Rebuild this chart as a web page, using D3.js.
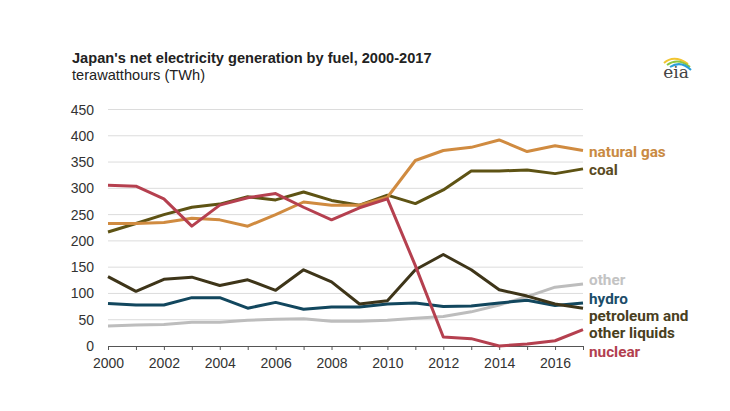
<!DOCTYPE html>
<html><head><meta charset="utf-8">
<script src="https://cdn.jsdelivr.net/npm/d3@7"></script>
<style>body{margin:0;background:#fff;font-family:Arial,"Liberation Sans",sans-serif}</style>
</head><body><svg id="c" width="730" height="411"></svg>
<script>
const years = d3.range(2000, 2018);
const naturalGas = [233,233,235,243,240,228,250,274,268,268,283,353,372,378,392,370,381,372];
const coal = [217,233,250,264,270,284,278,293,277,268,287,271,297,333,333,335,328,337];
const nuclear = [306,304,280,228,268,282,290,264,240,263,280,153,17,14,0,4,10,31];
const petroleum = [132,104,127,131,115,126,106,145,122,80,86,145,174,145,107,95,80,72];
const hydro = [81,78,78,92,92,72,83,70,74,74,80,82,75,76,82,87,77,82];
const other = [38,40,41,45,45,49,51,52,47,47,49,53,56,65,78,94,112,118];
const yTicks = [0,50,100,150,200,250,300,350,400,450];
const xTickLabels = [2000,2002,2004,2006,2008,2010,2012,2014,2016];

const series = [
  {name:"other", values:other, color:"#bdbdbd", label:["other"], ly:[279], lc:"#c3c3c3"},
  {name:"hydro", values:hydro, color:"#12475e", label:["hydro"], ly:[298], lc:"#1b4d69"},
  {name:"petroleum", values:petroleum, color:"#3e3519", label:["petroleum and","other liquids"], ly:[315,332], lc:"#4a3f1e"},
  {name:"coal", values:coal, color:"#5e5314", label:["coal"], ly:[169], lc:"#5a4b1f"},
  {name:"natural gas", values:naturalGas, color:"#d08b40", label:["natural gas"], ly:[151], lc:"#c98a42"},
  {name:"nuclear", values:nuclear, color:"#b5404f", label:["nuclear"], ly:[351], lc:"#b23f50"}
];

const svg = d3.select("#c");
const x = d3.scaleLinear().domain([2000,2017]).range([108,583]);
const y = d3.scaleLinear().domain([0,450]).range([346,109.5]);

svg.append("text").attr("x",72).attr("y",63).attr("font-size",14.6).attr("font-weight","bold").attr("fill","#222")
  .text("Japan's net electricity generation by fuel, 2000-2017");
svg.append("text").attr("x",72).attr("y",80).attr("font-size",14.6).attr("fill","#222").text("terawatthours (TWh)");

// grid
svg.append("g").selectAll("line").data(yTicks.filter(d=>d>0)).join("line")
  .attr("x1",108).attr("x2",583).attr("y1",d=>y(d)).attr("y2",d=>y(d))
  .attr("stroke","#dcdcdc").attr("stroke-width",1);

// y labels
svg.append("g").selectAll("text").data(yTicks).join("text")
  .attr("x",94).attr("y",d=>y(d)+5).attr("text-anchor","end").attr("font-size",14).attr("fill","#333")
  .text(d=>d);

// x axis
const xAxis = d3.axisBottom(x).tickValues(years).tickSize(4).tickFormat(d=>xTickLabels.includes(d)?d:"");
const gx = svg.append("g").attr("transform","translate(0,346)").call(xAxis);
gx.select(".domain").attr("stroke","#555").attr("d","M108,0.5H583");
gx.selectAll(".tick line").attr("stroke","#555");
gx.selectAll(".tick text").attr("font-size",14).attr("fill","#333").attr("font-family","Arial,'Liberation Sans',sans-serif").attr("dy","1.05em");

// lines
const line = d3.line().x((d,i)=>x(years[i])).y(d=>y(d));
svg.append("g").selectAll("path").data(series).join("path")
  .attr("d",d=>line(d.values)).attr("fill","none").attr("stroke",d=>d.color)
  .attr("stroke-width",3).attr("stroke-linejoin","round");

// labels
series.forEach(s=>{
  s.label.forEach((t,i)=>{
    svg.append("text").attr("x",589).attr("y",s.ly[i]+5.5).attr("font-size",15.3).attr("font-weight","bold")
      .attr("font-family","Roboto,Arial,sans-serif").attr("fill",s.lc).text(t);
  });
});

// eia logo
const lg = svg.append("g").attr("transform","translate(676,70)");
lg.append("path").attr("d","M-12,-7 Q-2,-16 12,-6").attr("fill","none").attr("stroke","#f2c531").attr("stroke-width",2);
lg.append("path").attr("d","M-9,-5 Q2,-13 14,-3").attr("fill","none").attr("stroke","#8cc63f").attr("stroke-width",2);
lg.append("path").attr("d","M-6,-3 Q5,-10 15,0").attr("fill","none").attr("stroke","#2a9fd8").attr("stroke-width",2);
lg.append("text").attr("x",0).attr("y",8).attr("text-anchor","middle").attr("font-size",17)
  .attr("font-family","'DejaVu Serif','Liberation Serif',serif").attr("fill","#444").text("eia");
</script></body></html>
